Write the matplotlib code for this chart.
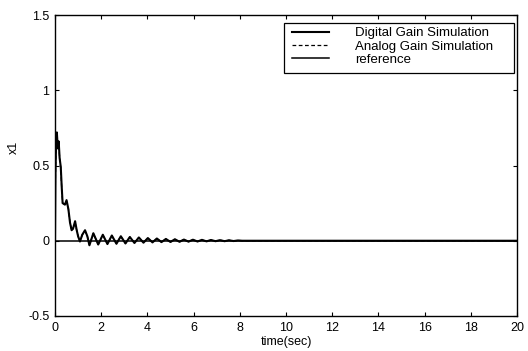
import matplotlib
matplotlib.use("Agg")
import matplotlib.pyplot as plt
from matplotlib.patches import Rectangle

# time points (sec) and responses
t_digital = [0.0, 0.02, 0.05, 0.08, 0.12, 0.16, 0.2, 0.25, 0.29, 0.33, 0.43, 0.5, 0.58,
             0.65, 0.72, 0.78, 0.87, 0.94, 1.0, 1.08, 1.18, 1.3, 1.4, 1.49, 1.66, 1.87,
             2.07, 2.27, 2.46, 2.66, 2.85, 3.05, 3.24, 3.44, 3.63, 3.83, 4.02, 4.22,
             4.41, 4.61, 4.8, 5.0, 5.19, 5.39, 5.58, 5.78, 5.97, 6.17, 6.36, 6.56,
             6.75, 6.95, 7.14, 7.34, 7.53, 7.73, 7.92, 8.1, 20.0]
x1_digital = [0.0, 0.45, 0.68, 0.72, 0.62, 0.66, 0.55, 0.49, 0.36, 0.25, 0.24, 0.27, 0.21,
              0.12, 0.07, 0.08, 0.13, 0.07, 0.03, -0.005, 0.04, 0.07, 0.03, -0.03, 0.05, -0.025,
              0.04, -0.022, 0.035, -0.02, 0.03, -0.018, 0.025, -0.015, 0.022, -0.013, 0.018, -0.011,
              0.015, -0.009, 0.012, -0.008, 0.010, -0.007, 0.008, -0.006, 0.007, -0.005, 0.006, -0.004,
              0.005, -0.003, 0.004, -0.003, 0.003, -0.002, 0.002, 0.0, 0.0]
t_analog = t_digital
x1_analog = [0.0, 0.44, 0.67, 0.71, 0.61, 0.65, 0.55, 0.48, 0.35, 0.25, 0.24, 0.26, 0.21,
             0.12, 0.07, 0.08, 0.12, 0.07, 0.03, -0.005, 0.04, 0.065, 0.03, -0.028, 0.048, -0.024,
             0.038, -0.021, 0.033, -0.019, 0.029, -0.017, 0.024, -0.014, 0.021, -0.012, 0.017, -0.010,
             0.014, -0.009, 0.011, -0.008, 0.009, -0.007, 0.008, -0.006, 0.006, -0.005, 0.005, -0.004,
             0.004, -0.003, 0.004, -0.002, 0.003, -0.002, 0.002, 0.0, 0.0]
t_ref = [0.0, 20.0]
x1_ref = [0.0, 0.0]

xticks = [0, 2, 4, 6, 8, 10, 12, 14, 16, 18, 20]
yticks = [-0.5, 0, 0.5, 1, 1.5]
ytick_labels = ["-0.5", "0", "0.5", "1", "1.5"]

plt.rcParams['font.family'] = ['Liberation Sans', 'DejaVu Sans']
fig = plt.figure(figsize=(5.28, 3.51), dpi=100)
W, H = 528, 351
left, right, top, bottom = 55, 517, 15, 316
ax = fig.add_axes([left / W, 1 - bottom / H, (right - left) / W, (bottom - top) / H])

ax.plot(t_digital, x1_digital, color='black', lw=1.5, label='Digital Gain Simulation')
ax.plot(t_analog, x1_analog, color='black', lw=0.9, ls=(0, (3, 2)), label='Analog Gain Simulation')
ax.plot(t_ref, x1_ref, color='black', lw=1.1, label='reference')

ax.set_xlim(0, 20)
ax.set_ylim(-0.5, 1.5)
ax.set_xticks(xticks)
ax.set_xticklabels([str(v) for v in xticks])
ax.set_yticks(yticks)
ax.set_yticklabels(ytick_labels)
ax.tick_params(direction='in', length=3, width=0.8, top=True, right=True,
               labelsize=9, pad=4, colors='black')
for s in ax.spines.values():
    s.set_linewidth(1.0)
ax.set_xlabel('time(sec)', fontsize=9, labelpad=2)
ax.set_ylabel('x1', fontsize=9)
ax.yaxis.set_label_coords(-0.075, 0.56)

# legend box (MATLAB style, wide right padding)
lx0, lx1, ly0, ly1 = 284, 514, 23, 73
fig.patches.append(Rectangle((lx0 / W, 1 - ly1 / H), (lx1 - lx0) / W, (ly1 - ly0) / H,
                             transform=fig.transFigure, facecolor='white',
                             edgecolor='black', lw=0.9, zorder=5))
leg = fig.legend(*ax.get_legend_handles_labels(), loc='upper left',
                 bbox_to_anchor=(292 / W, 1 - 27 / H), fontsize=9.5,
                 frameon=False, handlelength=2.8, handletextpad=2.0,
                 labelspacing=0.08, borderpad=0.0, borderaxespad=0.0)
leg.set_zorder(6)

fig.savefig('out.png', dpi=100, facecolor='white')
